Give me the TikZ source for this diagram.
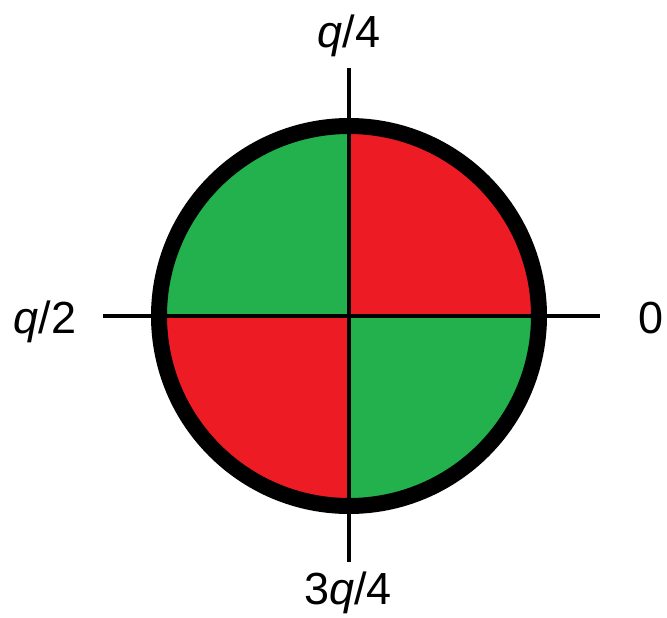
\documentclass[tikz,border=0pt]{standalone}
\usepackage{fontspec}
\setmainfont{Liberation Sans}
\definecolor{qred}{RGB}{237,28,36}
\definecolor{qgreen}{RGB}{34,177,76}
\tikzset{
  lab/.style={font=\fontsize{45}{50}\selectfont, inner sep=0pt, anchor=base},
  axisline/.style={line width=4.5pt},
  divline/.style={line width=3.5pt},
  ring/.style={line width=16pt}
}
\begin{document}
\begin{tikzpicture}[x=1pt,y=-1pt]
\useasboundingbox (0,0) rectangle (667,618);
\coordinate (c) at (349,316);
% quadrants (y axis points down: angle 270 is up)
\fill[qred]   (c) -- ++(270:186) arc[start angle=270, end angle=360, radius=186] -- cycle;
\fill[qgreen] (c) -- ++(180:186) arc[start angle=180, end angle=270, radius=186] -- cycle;
\fill[qred]   (c) -- ++(90:186)  arc[start angle=90,  end angle=180, radius=186] -- cycle;
\fill[qgreen] (c) -- ++(0:186)   arc[start angle=0,   end angle=90,  radius=186] -- cycle;
% axes
\coordinate (top) at (349,68);
\coordinate (bot) at (349,562);
\coordinate (lft) at (103,316);
\coordinate (rgt) at (600,316);
\draw[axisline] (top) -- (349,122);
\draw[axisline] (349,510) -- (bot);
\draw[axisline] (lft) -- (152,316);
\draw[axisline] (546,316) -- (rgt);
\draw[divline] (349,130) -- (349,502);
\draw[divline] (164,316) -- (534,316);
% ring
\draw[ring] (c) circle[radius=190];
% labels
\node[lab] (l1) at (349,48) {{\itshape q}/4};
\node[lab] (l2) at (45,333) {{\itshape q}/2};
\node[lab] (l0) at (651,333) {0};
\node[lab] (l3) at (348,604) {3{\itshape q}/4};
\end{tikzpicture}
\end{document}
